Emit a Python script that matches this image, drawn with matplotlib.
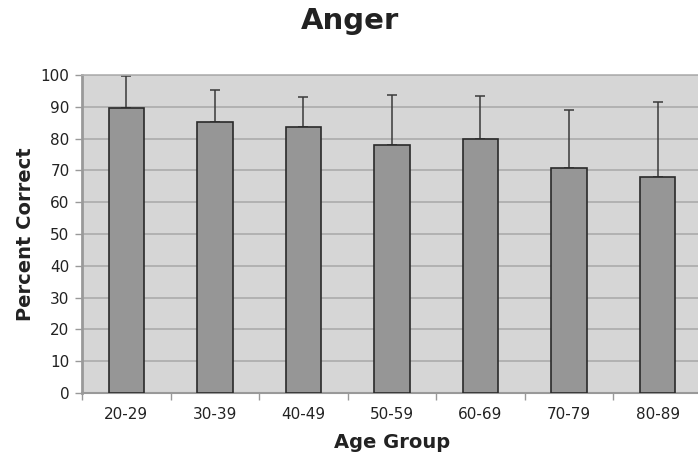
import numpy as np
import matplotlib.pyplot as plt
from matplotlib.ticker import FixedLocator, NullFormatter

groups = ['20-29', '30-39', '40-49', '50-59', '60-69', '70-79', '80-89']
percent = [89.6, 85.2, 83.8, 78.1, 80.0, 70.7, 67.8]
upper_err = [10.2, 10.1, 9.2, 15.6, 13.4, 18.2, 23.7]

fig = plt.figure(figsize=(6.98, 4.59), dpi=100)
ax = fig.add_axes([0.1175, 0.1438, 0.888, 0.6928])

x = np.arange(len(groups))
ax.set_facecolor('#d6d6d6')
ax.bar(x, percent, width=0.4, color='#969696', edgecolor='#2a2a2a', linewidth=1.2, zorder=3)
ax.errorbar(x, percent, yerr=[np.zeros(len(x)), upper_err], fmt='none',
            ecolor='#3a3a3a', elinewidth=1.1, capsize=3.5, capthick=1.1, zorder=2)

ax.set_xlim(-0.5, len(groups) - 0.5)
ax.set_ylim(0, 100)
ax.set_yticks(range(0, 101, 10))
ax.yaxis.grid(True, color='#a8a8a8', linewidth=1.1, zorder=1)
ax.set_axisbelow(True)

ax.set_xticks(x)
ax.set_xticklabels(groups, fontsize=11, color='#222222')
ax.tick_params(axis='x', length=0, pad=10)
ax.xaxis.set_minor_locator(FixedLocator(np.arange(-0.5, len(groups), 1.0)))
ax.xaxis.set_minor_formatter(NullFormatter())
ax.tick_params(axis='x', which='minor', length=5, color='#999999', width=1)
ax.tick_params(axis='y', labelsize=11, labelcolor='#222222', length=5, color='#999999', width=1, pad=4)

for side in ['top', 'right']:
    ax.spines[side].set_color('#b0b0b0')
    ax.spines[side].set_linewidth(1.2)
ax.spines['left'].set_color('#999999')
ax.spines['left'].set_linewidth(2)
ax.spines['bottom'].set_color('#999999')
ax.spines['bottom'].set_linewidth(1.5)

ax.set_xlabel('Age Group', fontsize=14, fontweight='bold', color='#222222', labelpad=8)
ax.set_ylabel('Percent Correct', fontsize=14, fontweight='bold', color='#222222', labelpad=4)
fig.text(0.5015, 0.955, 'Anger', ha='center', va='center', fontsize=21, fontweight='bold', color='#222222')

fig.savefig('out.png', dpi=100)
